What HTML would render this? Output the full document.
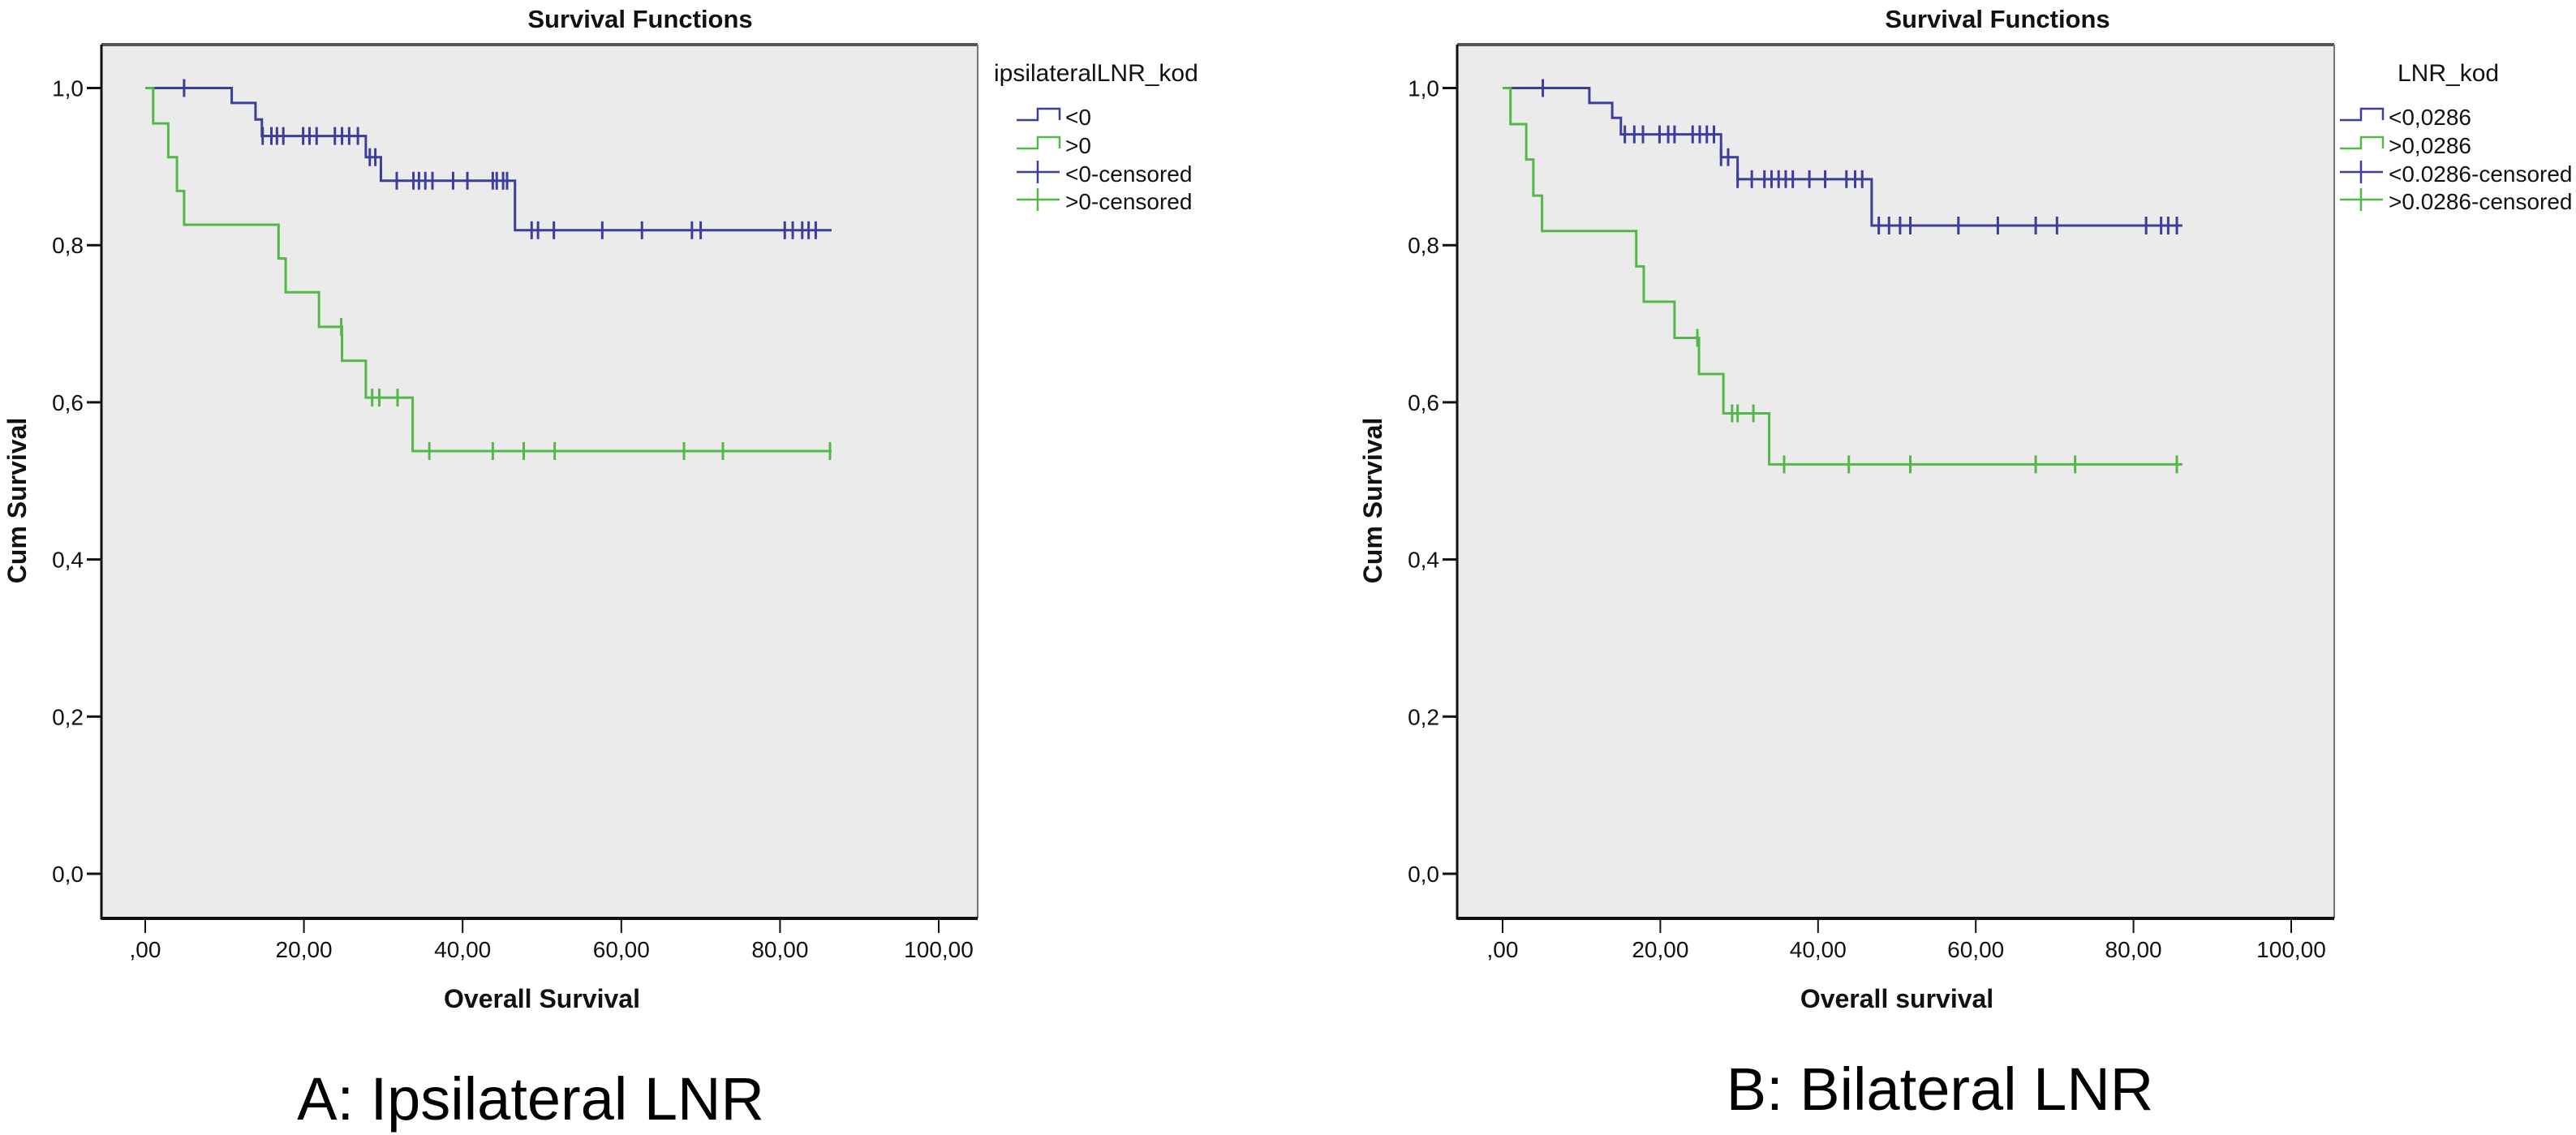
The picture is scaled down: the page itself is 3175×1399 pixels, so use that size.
<!DOCTYPE html>
<html><head><meta charset="utf-8"><style>
html,body{margin:0;padding:0;background:#fff;}
svg{display:block;font-family:"Liberation Sans",sans-serif;}
</style></head><body>
<svg id="fig" width="3175" height="1399" viewBox="0 0 3175 1399" xmlns="http://www.w3.org/2000/svg">
  <rect x="0" y="0" width="3175" height="1399" fill="#fff"/>
</svg>
<script>
// ---------- data ----------
const yTickValues = [0, 0.2, 0.4, 0.6, 0.8, 1.0];
const yTickLabels = ["0,0", "0,2", "0,4", "0,6", "0,8", "1,0"];
const xTickValues = [0, 20, 40, 60, 80, 100];
const xTickLabels = [",00", "20,00", "40,00", "60,00", "80,00", "100,00"];

// Panel A: ipsilateral LNR
const aBlueStepTimes = [0, 10.9, 13.9, 14.7, 27.8, 29.7, 46.6];
const aBlueStepValues = [1.0, 0.981, 0.960, 0.939, 0.912, 0.882, 0.819];
const aBlueEnd = 86.5;
const aBlueCensored = [4.9, 14.8, 15.9, 16.6, 17.4, 19.9, 20.7, 21.6, 23.9, 24.8, 25.7, 26.8, 28.3, 29.0, 31.7, 33.8, 34.5, 35.3, 36.2, 38.8, 40.6, 43.8, 44.3, 45.1, 45.6, 48.7, 49.5, 51.5, 57.6, 62.6, 68.9, 70.0, 80.6, 81.6, 82.8, 83.6, 84.5];
const aGreenStepTimes = [0, 1.0, 2.9, 4.0, 4.9, 16.8, 17.7, 21.9, 24.8, 27.8, 33.7];
const aGreenStepValues = [1.0, 0.955, 0.912, 0.869, 0.826, 0.783, 0.740, 0.696, 0.653, 0.606, 0.538];
const aGreenEnd = 86.5;
const aGreenCensored = [24.7, 28.6, 29.5, 31.8, 35.8, 43.8, 47.7, 51.6, 67.9, 72.8, 86.3];

// Panel B: bilateral LNR
const bBlueStepTimes = [1.0, 11.0, 13.9, 15.0, 27.7, 29.8, 46.8];
const bBlueStepValues = [1.0, 0.981, 0.962, 0.941, 0.912, 0.884, 0.825];
const bBlueEnd = 86.2;
const bBlueCensored = [5.1, 15.5, 16.7, 17.8, 19.9, 21.0, 21.8, 24.1, 25.0, 25.9, 26.8, 27.7, 28.6, 29.8, 31.6, 33.2, 34.1, 35.0, 35.9, 36.8, 38.9, 40.9, 43.6, 44.7, 45.6, 47.7, 49.0, 50.4, 51.7, 57.8, 62.8, 67.6, 70.3, 81.6, 83.5, 84.4, 85.5];
const bGreenStepTimes = [0, 1.0, 3.0, 3.9, 5.0, 16.95, 17.9, 21.8, 24.9, 28.0, 33.8];
const bGreenStepValues = [1.0, 0.954, 0.909, 0.863, 0.818, 0.773, 0.728, 0.682, 0.636, 0.586, 0.521];
const bGreenEnd = 86.2;
const bGreenCensored = [24.7, 29.1, 29.8, 31.8, 35.7, 43.9, 51.7, 67.6, 72.6, 85.5];

const aLegendLabels = ["<0", ">0", "<0-censored", ">0-censored"];
const bLegendLabels = ["<0,0286", ">0,0286", "<0.0286-censored", ">0.0286-censored"];

// ---------- drawing ----------
const NS = "http://www.w3.org/2000/svg";
const svg = document.getElementById("fig");
const BLUE = "#3d3d9c", GREEN = "#52b848";

function mk(tag, attrs, parent) {
  const e = document.createElementNS(NS, tag);
  for (const k in attrs) e.setAttribute(k, attrs[k]);
  parent.appendChild(e);
  return e;
}

function drawPanel(p) {
  const g = mk("g", {}, svg);
  
  
  const xScale = v => p.x0 + (v / 100) * (p.x100 - p.x0);
  const yScale = v => p.y0 + v * (p.y1 - p.y0);

  const bg = mk("rect", {x: p.left, y: p.top, width: p.right - p.left, height: p.bottom - p.top, fill: "#ebebeb"}, g);
  
  
  const tb = mk("line", {x1: p.left, y1: p.top, x2: p.right, y2: p.top, stroke: "#555", "stroke-width": 4}, g);
  
  
  const rb = mk("line", {x1: p.right, y1: p.top, x2: p.right, y2: p.bottom, stroke: "#777", "stroke-width": 2}, g);
  
  
  const ya = mk("line", {x1: p.left, y1: p.top, x2: p.left, y2: p.bottom + 1.5, stroke: "#111", "stroke-width": 3}, g);
  
  
  const xa = mk("line", {x1: p.left, y1: p.bottom, x2: p.right, y2: p.bottom, stroke: "#111", "stroke-width": 4}, g);
  
  

  yTickValues.forEach((v, i) => {
    const y = yScale(v);
    const t = mk("line", {x1: p.left - 18, y1: y, x2: p.left, y2: y, stroke: "#111", "stroke-width": 3}, g);
    
    
    const l = mk("text", {x: p.left - 22, y: y + 10, "text-anchor": "end", "font-size": 28, fill: "#111"}, g);
    l.textContent = yTickLabels[i];
    
    
  });
  xTickValues.forEach((v, i) => {
    const x = xScale(v);
    const t = mk("line", {x1: x, y1: p.bottom, x2: x, y2: p.bottom + 18, stroke: "#111", "stroke-width": 2}, g);
    
    
    const l = mk("text", {x: x, y: p.bottom + 48, "text-anchor": "middle", "font-size": 28, fill: "#111"}, g);
    l.textContent = xTickLabels[i];
    
    
  });

  function series(times, vals, end, cens, color, name) {
    let d = "M" + xScale(times[0]) + "," + yScale(vals[0]);
    for (let i = 1; i < times.length; i++) {
      d += " H" + xScale(times[i]) + " V" + yScale(vals[i]);
    }
    d += " H" + xScale(end);
    const path = mk("path", {d: d, fill: "none", stroke: color, "stroke-width": 3}, g);
    
    
    cens.forEach(t => {
      let v = vals[0];
      for (let i = 0; i < times.length; i++) if (times[i] <= t) v = vals[i];
      const x = xScale(t), y = yScale(v);
      const c = mk("line", {x1: x, y1: y - 11, x2: x, y2: y + 11, stroke: color, "stroke-width": 3}, g);
      
      
    });
  }
  series(p.blueT, p.blueV, p.blueEnd, p.blueC, BLUE, "blue");
  series(p.greenT, p.greenV, p.greenEnd, p.greenC, GREEN, "green");

  const title = mk("text", {x: p.titleX, y: 34, "text-anchor": "middle", "font-size": 31, "font-weight": "bold", fill: "#111"}, g);
  title.textContent = "Survival Functions";
  
  

  const yt = mk("text", {x: 0, y: 0, "text-anchor": "middle", "font-size": 32, "font-weight": "bold", fill: "#111",
    transform: "translate(" + (p.left - 93) + "," + 617 + ") rotate(-90)"}, g);
  yt.textContent = "Cum Survival";
  
  

  const xt = mk("text", {x: p.xTitleX, y: 1242, "text-anchor": "middle", "font-size": 32, "font-weight": "bold", fill: "#111"}, g);
  xt.textContent = p.xTitle;
  
  

  // legend
  const lg = mk("g", {}, g);
  
  
  const lt = mk("text", {x: p.legTitleX, y: 100, "font-size": 30, fill: "#111"}, lg);
  lt.textContent = p.legTitle;
  
  
  const sx = p.legX + 28;
  const rows = [146, 181, 216, 250];
  p.legLabels.forEach((lab, i) => {
    const y = rows[i];
    const col = (i % 2 === 0) ? BLUE : GREEN;
    let sw;
    if (i < 2) {
      sw = mk("path", {d: "M" + sx + "," + (y + 2) + " H" + (sx + 26) + " V" + (y - 12) + " H" + (sx + 53) + " V" + (y + 2), fill: "none", stroke: col, "stroke-width": 2.5}, lg);
    } else {
      sw = mk("path", {d: "M" + sx + "," + (y - 4) + " H" + (sx + 53) + " M" + (sx + 26) + "," + (y - 18) + " V" + (y + 10), fill: "none", stroke: col, "stroke-width": 2.5}, lg);
    }
    
    
    const tx = mk("text", {x: sx + 60, y: y + 8, "font-size": 28, fill: "#111"}, lg);
    tx.textContent = lab;
    
    
  });

  const cap = mk("text", {x: p.capX, y: p.capY, "text-anchor": "middle", "font-size": 74, fill: "#000"}, g);
  cap.textContent = p.caption;
  
  
}

drawPanel({id: "a", left: 125, right: 1205, top: 55, bottom: 1132, x0: 179, x100: 1157, y0: 1077, y1: 108.5,
  blueT: aBlueStepTimes, blueV: aBlueStepValues, blueEnd: aBlueEnd, blueC: aBlueCensored,
  greenT: aGreenStepTimes, greenV: aGreenStepValues, greenEnd: aGreenEnd, greenC: aGreenCensored,
  titleX: 789, xTitle: "Overall Survival", xTitleX: 668, legX: 1225, legTitleX: 1225, legTitle: "ipsilateralLNR_kod", legLabels: aLegendLabels,
  caption: "A: Ipsilateral LNR", capX: 654, capY: 1380});
drawPanel({id: "b", left: 1796, right: 2877, top: 55, bottom: 1132, x0: 1852, x100: 2824, y0: 1077, y1: 108.5,
  blueT: bBlueStepTimes, blueV: bBlueStepValues, blueEnd: bBlueEnd, blueC: bBlueCensored,
  greenT: bGreenStepTimes, greenV: bGreenStepValues, greenEnd: bGreenEnd, greenC: bGreenCensored,
  titleX: 2462, xTitle: "Overall survival", xTitleX: 2338, legX: 2856, legTitleX: 2955, legTitle: "LNR_kod", legLabels: bLegendLabels,
  caption: "B: Bilateral LNR", capX: 2391, capY: 1368});
</script>
</body></html>
